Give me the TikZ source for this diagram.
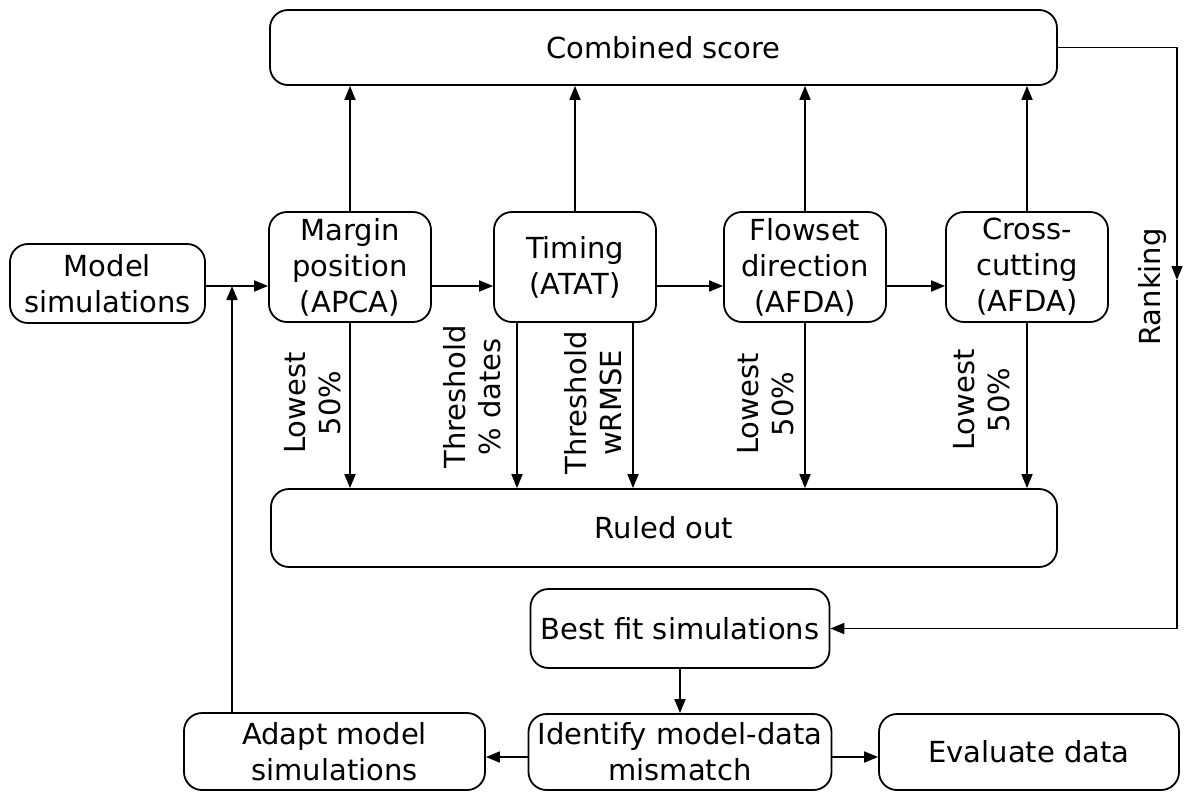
\documentclass[tikz,border=0pt]{standalone}
\usepackage{fontspec}
\setmainfont{DejaVu Sans}
\usetikzlibrary{arrows.meta}
\begin{document}
\begin{tikzpicture}[x=1pt,y=-1pt,
  box/.style={draw, line width=1.8pt, rounded corners=18pt, inner sep=0pt, align=center,
    font=\fontsize{29}{36}\selectfont},
  lbl/.style={inner sep=0pt, align=center, rotate=90, font=\fontsize{29}{35}\selectfont},
  arr/.style={line width=1.8pt, -{Triangle[length=14pt,width=11pt]}},
  ln/.style={line width=1.8pt}]
\useasboundingbox (0,0) rectangle (1184,792);
\node[box, minimum width=787pt, minimum height=75pt] (comb) at (663.5,47.5) {Combined score};
\node[box, minimum width=195pt, minimum height=79pt] (model) at (107.5,283.5) {Model\\simulations};
\node[box, minimum width=162pt, minimum height=110pt] (margin) at (350,267) {Margin\\position\\(APCA)};
\node[box, minimum width=162pt, minimum height=110pt] (timing) at (575,267) {Timing\\(ATAT)};
\node[box, minimum width=162pt, minimum height=110pt] (flow) at (805,267) {Flowset\\direction\\(AFDA)};
\node[box, minimum width=162pt, minimum height=110pt] (cross) at (1027,267) {Cross-\\cutting\\(AFDA)};
\node[box, minimum width=786pt, minimum height=78pt] (ruled) at (664,528) {Ruled out};
\node[box, minimum width=299pt, minimum height=79pt] (best) at (680,628.5) {Best fit simulations};
\node[box, minimum width=303pt, minimum height=76pt] (ident) at (680,752) {Identify model-data\\mismatch};
\node[box, minimum width=301pt, minimum height=77pt] (adapt) at (334.5,751.5) {Adapt model\\simulations};
\node[box, minimum width=300pt, minimum height=76pt] (eval) at (1029,752) {Evaluate data};

\coordinate (row) at (0,286);
\coordinate (fb) at (232,0);
\coordinate (tl) at (517,0);
\coordinate (tr) at (633,0);
\coordinate (rkmid) at (1177,280);
\coordinate (lowrow) at (0,757);

% horizontal chain
\draw[arr] (model.east |- row) -- (margin.west |- row);
\draw[arr] (margin.east |- row) -- (timing.west |- row);
\draw[arr] (timing.east |- row) -- (flow.west |- row);
\draw[arr] (flow.east |- row) -- (cross.west |- row);

% feedback
\draw[arr] (adapt.north -| fb) -- (fb |- row);

% up arrows
\draw[arr] (margin.north) -- (comb.south -| margin.north);
\draw[arr] (timing.north) -- (comb.south -| timing.north);
\draw[arr] (flow.north) -- (comb.south -| flow.north);
\draw[arr] (cross.north) -- (comb.south -| cross.north);

% down arrows
\draw[arr] (margin.south) -- (ruled.north -| margin.south);
\draw[arr] (timing.south -| tl) -- (ruled.north -| tl);
\draw[arr] (timing.south -| tr) -- (ruled.north -| tr);
\draw[arr] (flow.south) -- (ruled.north -| flow.south);
\draw[arr] (cross.south) -- (ruled.north -| cross.south);

% ranking
\draw[line width=1.3pt, -{Triangle[length=14pt,width=11pt]}] (comb.east) -| (rkmid);
\draw[arr] (rkmid) |- (best.east);

% bottom
\draw[arr] (best.south) -- (ident.north);
\draw[arr] (ident.west |- lowrow) -- (adapt.east |- lowrow);
\draw[arr] (ident.east |- lowrow) -- (eval.west |- lowrow);

% labels
\node[lbl] (l1) at (313,403) {Lowest\\50\%};
\node[lbl] (l2) at (472,397) {Threshold\\\% dates};
\node[lbl] (l3) at (593,403) {Threshold\\wRMSE};
\node[lbl] (l4) at (766,404) {Lowest\\50\%};
\node[lbl] (l5) at (982,400) {Lowest\\50\%};
\node[lbl] (l6) at (1152,287) {Ranking};
\end{tikzpicture}
\end{document}
